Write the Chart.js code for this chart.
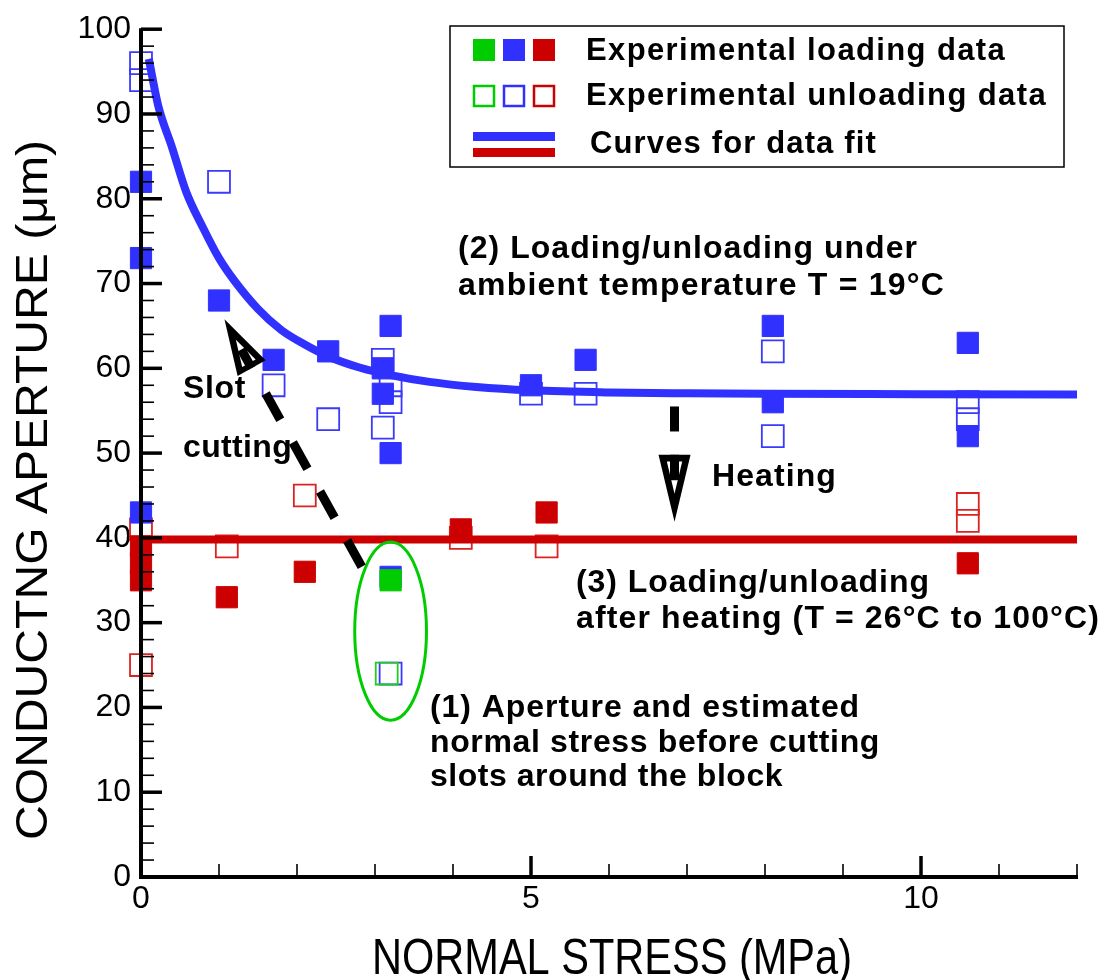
<!DOCTYPE html>
<html><head><meta charset="utf-8">
<script src="https://cdn.jsdelivr.net/npm/chart.js@4.4.1/dist/chart.umd.min.js"></script>
<style>html,body{margin:0;padding:0;background:#fff;}#wrap{width:1105px;height:980px;}</style>
</head><body><div id="wrap"><canvas id="c" width="1105" height="980"></canvas></div>
<script>
// ---------- data ----------
const blueLoadX = [0, 0, 0, 1.0, 1.7, 2.4, 3.1, 3.1, 3.2, 3.2, 3.2, 5.0, 5.7, 8.1, 8.1, 10.6, 10.6];
const blueLoadY = [82, 73, 43, 68, 61, 62, 60, 57, 65, 50, 35.4, 58, 61, 65, 56, 63, 52];
const blueUnloadX = [0, 0, 1.0, 1.7, 2.4, 3.1, 3.1, 3.2, 3.2, 3.2, 5.0, 5.7, 8.1, 8.1, 10.6, 10.6];
const blueUnloadY = [96, 94, 82, 58, 54, 61, 53, 58, 56, 24, 57, 57, 62, 52, 56, 54];
const redLoadX = [0, 0, 0, 1.1, 2.1, 4.1, 5.2, 10.6];
const redLoadY = [39, 37, 35, 33, 36, 41, 43, 37];
const redUnloadX = [0, 0, 1.1, 2.1, 4.1, 5.2, 10.6, 10.6];
const redUnloadY = [41, 25, 39, 45, 40, 39, 44, 42];
const greenLoadX = [3.2];
const greenLoadY = [35];
const greenUnloadX = [3.15];
const greenUnloadY = [24];
// fitted curves
const blueCurveX = [0.1, 0.22, 0.4, 0.58, 0.8, 1.0, 1.2, 1.5, 1.8, 2.1, 2.4, 2.8, 3.2, 3.7, 4.3, 5.0, 6.0, 7.0, 8.0, 10.0, 12.0];
const blueCurveY = [96.5, 91, 86, 80.8, 76.5, 73, 70.3, 67, 64.5, 62.8, 61.4, 60.1, 59.2, 58.4, 57.8, 57.4, 57.15, 57.05, 57.0, 56.95, 56.9];
const redCurveX = [0, 12];
const redCurveY = [39.8, 39.8];
// axes
const xTickValues = [0, 5, 10];
const xTickLabels = ['0', '5', '10'];
const xMinorValues = [1, 2, 3, 4, 6, 7, 8, 9, 11, 12];
const yTickValues = [0, 10, 20, 30, 40, 50, 60, 70, 80, 90, 100];
const yTickLabels = ['0', '10', '20', '30', '40', '50', '60', '70', '80', '90', '100'];
const yMinorValues = [2, 4, 6, 8, 12, 14, 16, 18, 22, 24, 26, 28, 32, 34, 36, 38, 42, 44, 46, 48, 52, 54, 56, 58, 62, 64, 66, 68, 72, 74, 76, 78, 82, 84, 86, 88, 92, 94, 96, 98];
const xTitle = 'NORMAL STRESS (MPa)';
const yTitle = 'CONDUCTNG APERTURE (\u03bcm)';
const legendLabels = ['Experimental loading data', 'Experimental unloading data', 'Curves for data fit'];

// ---------- styling / layout ----------
const BLUE = '#3131ff', RED = '#cc0000', GREEN = '#00cc00';
const FONT = '"Liberation Sans", Arial, sans-serif';
const notes = [
  {t: '(2) Loading/unloading under', x: 458, y: 258, w: 460},
  {t: 'ambient temperature T = 19\u00b0C', x: 458, y: 295, w: 487},
  {t: 'Slot', x: 183, y: 398, w: 63},
  {t: 'cutting', x: 183, y: 457, w: 109},
  {t: 'Heating', x: 712, y: 486, w: 125},
  {t: '(3) Loading/unloading', x: 576, y: 592, w: 354},
  {t: 'after heating (T = 26\u00b0C to 100\u00b0C)', x: 576, y: 628, w: 524},
  {t: '(1) Aperture and estimated', x: 430, y: 717, w: 430},
  {t: 'normal stress before cutting', x: 430, y: 752, w: 450},
  {t: 'slots around the block', x: 430, y: 786, w: 353}
];
const slotArrow = {x0: 2.83, y0: 36.6, x1: 1.07, y1: 65.8, L: 56, W: 16, dash: [30, 26], stopBefore: 28};
const heatArrow = {x0: 6.84, y0: 55.5, x1: 6.84, y1: 41.9, L: 67, W: 16, dash: [25, 24], stopBefore: 0};
const ellipse = {cx: 3.2, cy: 29, rx: 0.46, ry: 10.5};
const legendBox = {x: 450, y: 26, w: 614, h: 141};
const legendCols = [484, 514, 544];

function pts(xa, ya) { return xa.map((x, i) => ({x: x, y: ya[i]})); }

function fitText(ctx, t, x, y, w, font, useSpacing) {
  ctx.save();
  ctx.font = font; ctx.fillStyle = '#000'; ctx.textAlign = 'left'; ctx.textBaseline = 'alphabetic';
  const base = ctx.measureText(t).width;
  if (useSpacing && ('letterSpacing' in ctx)) {
    ctx.letterSpacing = ((w - base) / t.length).toFixed(2) + 'px';
    ctx.fillText(t, x, y);
  } else {
    ctx.translate(x, y); ctx.scale(w / base, 1); ctx.fillText(t, 0, 0);
  }
  ctx.restore();
}

function drawArrow(ctx, xs, ys, a) {
  const x0 = xs.getPixelForValue(a.x0), y0 = ys.getPixelForValue(a.y0);
  const x1 = xs.getPixelForValue(a.x1), y1 = ys.getPixelForValue(a.y1);
  const dx = x1 - x0, dy = y1 - y0, len = Math.hypot(dx, dy);
  const ux = dx / len, uy = dy / len, nx = -uy, ny = ux;
  const L = a.L, W = a.W;
  const bx = x1 - ux * L, by = y1 - uy * L;
  ctx.save();
  ctx.strokeStyle = '#000'; ctx.fillStyle = '#000'; ctx.lineCap = 'butt'; ctx.lineWidth = 9;
  ctx.setLineDash(a.dash);
  ctx.beginPath(); ctx.moveTo(x0, y0);
  ctx.lineTo(bx - ux * a.stopBefore, by - uy * a.stopBefore); ctx.stroke();
  ctx.setLineDash([]);
  ctx.beginPath(); ctx.moveTo(x1, y1);
  ctx.lineTo(bx + nx * W, by + ny * W); ctx.lineTo(bx - nx * W, by - ny * W); ctx.closePath(); ctx.fill();
  const sa = 0.42 * L, sb = 0.9 * L, wi = W * (sb - sa) / L;
  const ax = x1 - ux * sa, ay = y1 - uy * sa, cx = x1 - ux * sb, cy = y1 - uy * sb;
  ctx.fillStyle = '#fff';
  ctx.beginPath(); ctx.moveTo(ax, ay); ctx.lineTo(cx + nx * wi, cy + ny * wi); ctx.lineTo(cx - nx * wi, cy - ny * wi); ctx.closePath(); ctx.fill();
  ctx.beginPath(); ctx.moveTo(bx, by); ctx.lineTo(x1 - ux * 0.62 * L, y1 - uy * 0.62 * L); ctx.stroke();
  ctx.restore();
}

const decor = {
  id: 'decor',
  afterDatasetsDraw(chart) {
    const ctx = chart.ctx, xs = chart.scales.x, ys = chart.scales.y;
    const L = xs.left, B = ys.bottom;
    ctx.save();
    ctx.strokeStyle = '#000'; ctx.lineCap = 'butt';
    const seg = (x0, y0, x1, y1, w) => { ctx.lineWidth = w; ctx.beginPath(); ctx.moveTo(x0, y0); ctx.lineTo(x1, y1); ctx.stroke(); };
    seg(L, ys.top - 1, L, B + 2, 4);
    seg(L - 2, B, xs.right + 1, B, 4);
    yTickValues.forEach(v => { const p = ys.getPixelForValue(v); seg(L, p, L + 21, p, 3.5); });
    yMinorValues.forEach(v => { const p = ys.getPixelForValue(v); seg(L, p, L + 13, p, 1.6); });
    xTickValues.forEach(v => { const p = xs.getPixelForValue(v); seg(p, B, p, B - 21, 3.5); });
    xMinorValues.forEach(v => { const p = xs.getPixelForValue(v); seg(p, B, p, B - 13, 1.6); });
    // ellipse
    ctx.strokeStyle = GREEN; ctx.lineWidth = 3;
    const ecx = xs.getPixelForValue(ellipse.cx), ecy = ys.getPixelForValue(ellipse.cy);
    const erx = xs.getPixelForValue(ellipse.cx + ellipse.rx) - ecx, ery = ecy - ys.getPixelForValue(ellipse.cy + ellipse.ry);
    ctx.beginPath(); ctx.ellipse(ecx, ecy, erx, ery, 0, 0, Math.PI * 2); ctx.stroke();
    ctx.restore();
    drawArrow(ctx, xs, ys, slotArrow);
    drawArrow(ctx, xs, ys, heatArrow);
    notes.forEach(n => fitText(ctx, n.t, n.x, n.y, n.w, 'bold 32px ' + FONT, true));
    // axis titles
    fitText(ctx, xTitle, 612 - 240, 974, 480, '50px ' + FONT, false);
    ctx.save();
    ctx.translate(47, 840); ctx.rotate(-Math.PI / 2);
    fitText(ctx, yTitle, 0, 0, 700, '45px ' + FONT, false);
    ctx.restore();
    // legend
    const lb = legendBox;
    ctx.save();
    ctx.fillStyle = '#fff'; ctx.fillRect(lb.x, lb.y, lb.w, lb.h);
    ctx.strokeStyle = '#000'; ctx.lineWidth = 1.5; ctx.strokeRect(lb.x, lb.y, lb.w, lb.h);
    const cols = [GREEN, BLUE, RED];
    cols.forEach((c, i) => { ctx.fillStyle = c; ctx.fillRect(legendCols[i] - 11, 50 - 11, 22, 22); });
    ctx.lineWidth = 2.5;
    cols.forEach((c, i) => { ctx.strokeStyle = c; ctx.strokeRect(legendCols[i] - 10, 96 - 10, 20, 20); });
    ctx.lineWidth = 9;
    const lx0 = legendCols[0] - 11, lx1 = legendCols[2] + 11;
    ctx.strokeStyle = BLUE; ctx.beginPath(); ctx.moveTo(lx0, 136.5); ctx.lineTo(lx1, 136.5); ctx.stroke();
    ctx.strokeStyle = RED; ctx.beginPath(); ctx.moveTo(lx0, 152.5); ctx.lineTo(lx1, 152.5); ctx.stroke();
    ctx.restore();
    fitText(ctx, legendLabels[0], 586, 60, 420, 'bold 31px ' + FONT, true);
    fitText(ctx, legendLabels[1], 586, 105, 461, 'bold 31px ' + FONT, true);
    fitText(ctx, legendLabels[2], 590, 153, 287, 'bold 31px ' + FONT, true);
  }
};

function markers(xa, ya, color, filled, order) {
  return {
    data: pts(xa, ya), showLine: false, clip: false, order: order,
    pointStyle: 'rect', pointRadius: filled ? 15 : 15.5,
    pointBackgroundColor: filled ? color : 'rgba(0,0,0,0)',
    pointBorderColor: color, pointBorderWidth: filled ? 1 : 1.8,
    pointHoverRadius: filled ? 15 : 15.5
  };
}
function curve(xa, ya, color) {
  return {
    data: pts(xa, ya), showLine: true, clip: false, order: 0,
    borderColor: color, borderWidth: 8, pointRadius: 0, pointHoverRadius: 0,
    cubicInterpolationMode: 'monotone', fill: false
  };
}

new Chart(document.getElementById('c'), {
  type: 'scatter',
  data: {
    datasets: [
      curve(blueCurveX, blueCurveY, BLUE),
      curve(redCurveX, redCurveY, RED),
      markers(greenLoadX, greenLoadY, GREEN, true, 1),
      markers(blueLoadX, blueLoadY, BLUE, true, 1),
      markers(redLoadX, redLoadY, RED, true, 1),
      markers(greenUnloadX, greenUnloadY, '#22cc22', false, 2),
      markers(blueUnloadX, blueUnloadY, '#3a3aff', false, 2),
      markers(redUnloadX, redUnloadY, '#dd2222', false, 2)
    ]
  },
  options: {
    responsive: false, animation: false, devicePixelRatio: 1,
    layout: {padding: {top: 24, right: 28, left: 0, bottom: 0}},
    plugins: {legend: {display: false}, tooltip: {enabled: false}},
    scales: {
      x: {
        type: 'linear', min: 0, max: 12,
        grid: {display: false, drawTicks: false}, border: {display: false},
        ticks: {color: '#000', font: {family: FONT, size: 32}, padding: 3, maxRotation: 0, autoSkip: false,
          callback: (v, i) => xTickLabels[i]},
        afterBuildTicks: s => { s.ticks = xTickValues.map(v => ({value: v})); },
        afterFit: s => { s.height = 103; }
      },
      y: {
        type: 'linear', min: 0, max: 100,
        grid: {display: false, drawTicks: false}, border: {display: false},
        ticks: {color: '#000', font: {family: FONT, size: 32}, padding: 10, autoSkip: false,
          callback: (v, i) => yTickLabels[i]},
        afterBuildTicks: s => { s.ticks = yTickValues.map(v => ({value: v})); },
        afterFit: s => { s.width = 141; }
      }
    }
  },
  plugins: [decor]
});
</script></body></html>
